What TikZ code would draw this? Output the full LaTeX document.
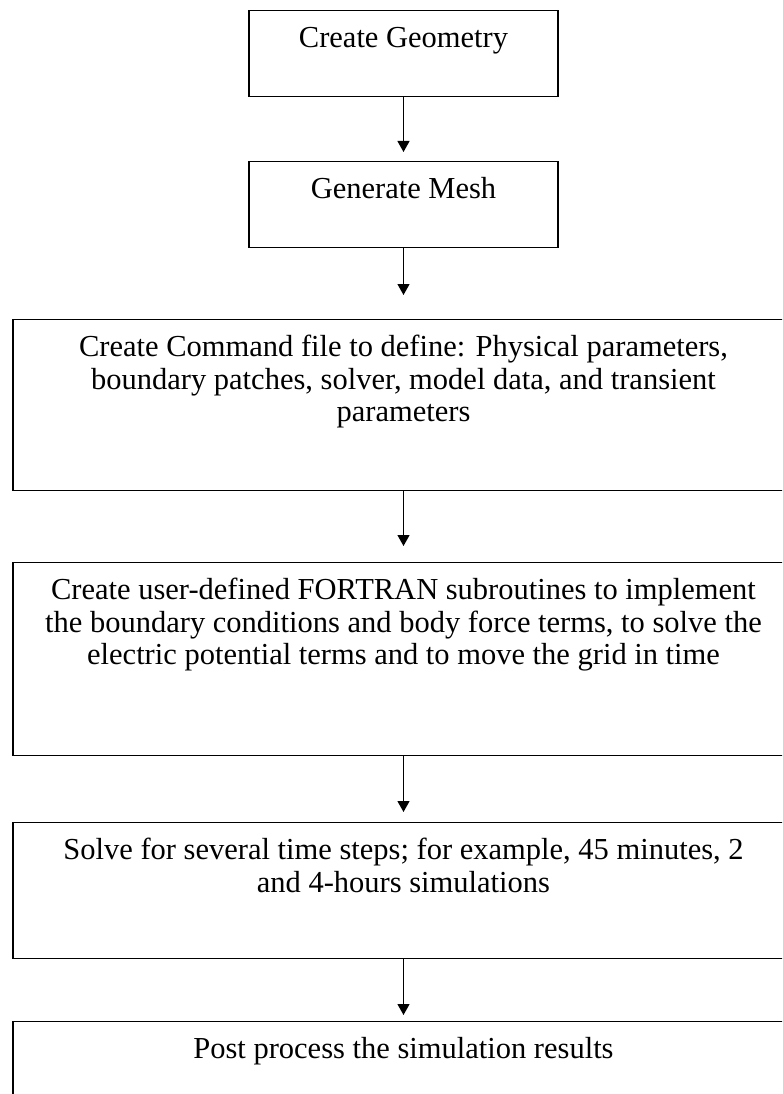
\documentclass[tikz,border=0pt]{standalone}
\usepackage{fontspec}
\setmainfont{Liberation Serif}
\usepackage{tikz}
\usetikzlibrary{arrows.meta}

\newcommand{\flowtext}[3]{\parbox[t][#2][t]{#1}{\centering\rule{0pt}{37pt}#3}}

\tikzset{
	flowbox/.style={draw, line width=1.3pt, anchor=north, inner sep=0pt,
		font=\fontsize{30.5}{32.5}\selectfont},
	flowarrow/.style={line width=1.2pt, -{Triangle[length=11pt,width=12pt]}}
}

\begin{document}
\begin{tikzpicture}[x=1pt,y=1pt]
	
	\clip (0,0) rectangle (782,-1094);
	
	\coordinate (p1) at (403.5,-10);
	\coordinate (p2) at (403.5,-161);
	\coordinate (p3) at (403.5,-319);
	\coordinate (p4) at (403.5,-562);
	\coordinate (p5) at (403.5,-822);
	\coordinate (p6) at (403.5,-1021);
	
	\node[flowbox] (geom) at (p1) {\flowtext{309pt}{86pt}{Create Geometry}};
	\node[flowbox] (mesh) at (p2) {\flowtext{309pt}{86pt}{Generate Mesh}};
	\node[flowbox] (cmdfile) at (p3) {\flowtext{781pt}{171pt}{Create Command file to define: Physical parameters,\\ boundary patches, solver, model data, and transient\\ parameters}};
	\node[flowbox] (fortran) at (p4) {\flowtext{781pt}{193pt}{Create user-defined FORTRAN subroutines to implement\\ the boundary conditions and body force terms, to solve the\\ electric potential terms and to move the grid in time}};
	\node[flowbox] (solve) at (p5) {\flowtext{781pt}{136pt}{Solve for several time steps; for example, 45 minutes, 2\\ and 4-hours simulations}};
	\node[flowbox] (post) at (p6) {\flowtext{781pt}{120pt}{Post process the simulation results}};
	
	\draw[flowarrow, shorten >=9pt] (geom.south) -- (mesh.north);
	\draw[flowarrow, shorten >=24pt] (mesh.south) -- (cmdfile.north);
	\draw[flowarrow, shorten >=16pt] (cmdfile.south) -- (fortran.north);
	\draw[flowarrow, shorten >=10pt] (fortran.south) -- (solve.north);
	\draw[flowarrow, shorten >=6pt] (solve.south) -- (post.north);
	
\end{tikzpicture}
\end{document}
